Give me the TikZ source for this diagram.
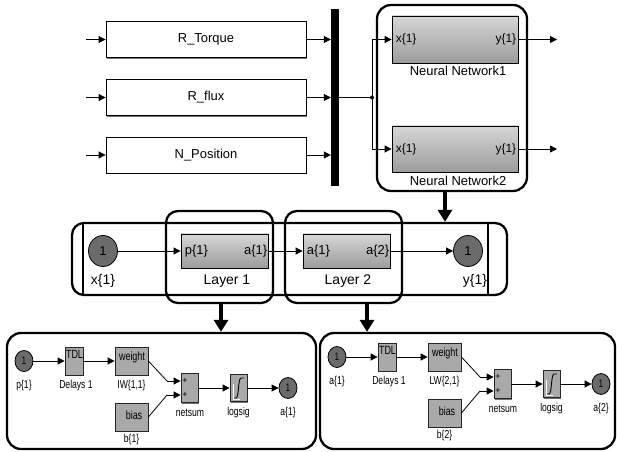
\documentclass[tikz,border=0pt]{standalone}
\usepackage{fontspec}
\setmainfont{Liberation Sans}
\newfontfamily\narrowfont[FakeStretch=0.75]{Liberation Sans}
\usetikzlibrary{arrows.meta,shadows,shapes.geometric}
\definecolor{blockfill}{HTML}{A9A9A9}
\definecolor{circfill}{HTML}{6B6B6B}
\definecolor{gradtop}{HTML}{D6D6D6}
\definecolor{gradbot}{HTML}{9C9C9C}
\tikzset{
  arr/.style={-{Triangle[length=7bp,width=7bp]}, line width=0.8bp},
  wire/.style={line width=0.8bp},
  bigarr/.style={-{Triangle[length=12bp,width=14bp]}, line width=3.5bp},
  frame/.style={draw, line width=2.3bp, rounded corners=14bp, inner sep=0pt},
  shad/.style={drop shadow={shadow xshift=1.3bp, shadow yshift=-1.3bp, fill=black!55, opacity=1}},
  srcbox/.style={draw, line width=0.8bp, fill=white, shad, minimum width=200bp, minimum height=36bp, inner sep=0pt, font=\fontsize{13}{15}\selectfont},
  gradbox/.style={draw, line width=0.8bp, top color=gradtop, bottom color=gradbot, shad, inner sep=0pt},
  port/.style={ellipse, draw=black, line width=0.8bp, fill=circfill, inner sep=0pt},
  blk/.style={draw=black!85, line width=0.8bp, fill=blockfill, shad, inner sep=0pt},
  lbl/.style={inner sep=0pt, font=\narrowfont\fontsize{11.5}{13}\selectfont},
  midlbl/.style={inner sep=0pt, font=\fontsize{14}{16}\selectfont},
  innerlbl/.style={inner sep=0pt, font=\fontsize{12}{14}\selectfont},
}
\newcommand\mypanel[5]{%
  \node[port, minimum width=18bp, minimum height=21bp, font=\narrowfont\fontsize{11}{12}\selectfont] (#1p) at (24,361) {1};
  \node[lbl] (#1pl) at (24,386) {#2};
  \node[blk, minimum width=18bp, minimum height=28bp] (#1t) at (74,361) {};
  \node[lbl, font=\narrowfont\fontsize{12}{13}\selectfont] (#1tt) at (74.5,354) {TDL};
  \node[lbl] (#1tl) at (76,386) {Delays 1};
  \node[blk, minimum width=33bp, minimum height=28bp] (#1w) at (131.5,361) {};
  \node[lbl, font=\narrowfont\fontsize{12}{13}\selectfont] (#1wt) at (132,357) {weight};
  \node[lbl] (#1wl) at (131.5,386) {#3};
  \node[blk, minimum width=33bp, minimum height=28bp] (#1b) at (131.5,417) {};
  \node[lbl, font=\narrowfont\fontsize{12}{13}\selectfont] (#1bt) at (134,415) {bias};
  \node[lbl] (#1bl) at (131.5,440) {#4};
  \node[blk, minimum width=17bp, minimum height=29bp] (#1n) at (189.5,388) {};
  \node[inner sep=0pt, font=\fontsize{9}{10}\selectfont] (#1na) at (185,381) {+};
  \node[inner sep=0pt, font=\fontsize{9}{10}\selectfont] (#1nb) at (185,395) {+};
  \node[lbl] (#1nl) at (190,413) {netsum};
  \node[blk, minimum width=17bp, minimum height=27bp] (#1s) at (238.5,388) {};
  \draw[white, line width=0.9bp] (233,384) -- (233,399) -- (240,399);
  \draw[black, line width=0.9bp] (234,398) -- (236,398) .. controls (239,398) and (238,378) .. (241,378) -- (244,378);
  \node[lbl] (#1sl) at (238.5,413) {logsig};
  \node[port, minimum width=18bp, minimum height=21bp, font=\narrowfont\fontsize{11}{12}\selectfont] (#1o) at (288,388) {1};
  \node[lbl] (#1ol) at (288,413) {#5};
  \coordinate (#1k1) at (167,381);
  \coordinate (#1k2) at (167,395);
  \draw[arr] (#1p.east) -- (#1t.west);
  \draw[arr] (#1t.east) -- (#1w.west);
  \draw[wire] (#1w.east) -- (#1k1);
  \draw[arr] (#1k1) -- (#1k1 -| #1n.west);
  \draw[wire] (#1b.east) -- (#1k2);
  \draw[arr] (#1k2) -- (#1k2 -| #1n.west);
  \draw[arr] (#1n.east) -- (#1s.west);
  \draw[arr] (#1s.east) -- (#1o.west);
}
\begin{document}
\begin{tikzpicture}[x=1bp,y=-1bp]
\useasboundingbox (0,0) rectangle (617,452);
% ---------- top section ----------
\node[srcbox] (rt) at (206,39.5) {R\_Torque};
\node[srcbox] (rf) at (206,97.5) {R\_flux};
\node[srcbox] (np) at (206,155) {N\_Position};
\coordinate (i1) at (86,39.5);
\coordinate (i2) at (86,97.5);
\coordinate (i3) at (86,155);
\draw[arr] (i1) -- (rt.west);
\draw[arr] (i2) -- (rf.west);
\draw[arr] (i3) -- (np.west);
\node[fill=black, minimum width=8bp, minimum height=177bp, inner sep=0pt] (bar) at (335,97.5) {};
\draw[arr] (rt.east) -- (rt.east -| bar.west);
\draw[arr] (rf.east) -- (rf.east -| bar.west);
\draw[arr] (np.east) -- (np.east -| bar.west);
% neural networks
\node[frame, minimum width=150bp, minimum height=186bp] (nnf) at (452,98) {};
\node[gradbox, minimum width=126bp, minimum height=47bp] (nn1) at (455,39.5) {};
\node[innerlbl, anchor=west] (nn1x) at ([xshift=4bp]nn1.west) {x\{1\}};
\node[innerlbl, anchor=east] (nn1y) at ([xshift=-2bp]nn1.east) {y\{1\}};
\node[inner sep=0pt, font=\fontsize{13}{15}\selectfont] (nn1l) at (458,71) {Neural Network1};
\node[gradbox, minimum width=126bp, minimum height=46bp] (nn2) at (455,149) {};
\node[innerlbl, anchor=west] (nn2x) at ([xshift=4bp]nn2.west) {x\{1\}};
\node[innerlbl, anchor=east] (nn2y) at ([xshift=-2bp]nn2.east) {y\{1\}};
\node[inner sep=0pt, font=\fontsize{13}{15}\selectfont] (nn2l) at (458,181) {Neural Network2};
\coordinate (j) at (372,97.5);
\draw[wire] (bar.east |- j) -- (j);
\fill (j) circle (2bp);
\draw[arr] (j) |- (nn1.west);
\draw[arr] (j) |- (nn2.west);
\coordinate (o1) at (557,39.5);
\coordinate (o2) at (557,149);
\draw[arr] (nn1.east) -- (o1);
\draw[arr] (nn2.east) -- (o2);
% ---------- middle section ----------
\node[frame, rounded corners=12bp, minimum width=435bp, minimum height=72bp] (outer) at (289.5,259) {};
\coordinate (xa) at (83,0);
\coordinate (xb) at (488,0);
\draw[line width=1.3bp] (outer.north -| xa) -- (outer.south -| xa);
\draw[line width=1.3bp] (outer.north -| xb) -- (outer.south -| xb);
\node[frame, rounded corners=12bp, minimum width=107bp, minimum height=92bp] (l1f) at (219.5,257) {};
\node[frame, rounded corners=12bp, minimum width=117bp, minimum height=92bp] (l2f) at (343.5,257) {};
\node[gradbox, minimum width=87bp, minimum height=34bp] (l1) at (224.5,251) {};
\node[midlbl, font=\fontsize{13}{15}\selectfont, anchor=west] (l1p) at ([xshift=4bp]l1.west) {p\{1\}};
\node[midlbl, font=\fontsize{13}{15}\selectfont, anchor=east] (l1a) at ([xshift=-1bp]l1.east) {a\{1\}};
\node[gradbox, minimum width=87bp, minimum height=34bp] (l2) at (346.5,251) {};
\node[midlbl, font=\fontsize{13}{15}\selectfont, anchor=west] (l2p) at ([xshift=4bp]l2.west) {a\{1\}};
\node[midlbl, font=\fontsize{13}{15}\selectfont, anchor=east] (l2a) at ([xshift=-1bp]l2.east) {a\{2\}};
\node[port, minimum width=29bp, minimum height=31bp, font=\fontsize{13}{15}\selectfont] (x1) at (103,251) {1};
\node[port, minimum width=29bp, minimum height=31bp, font=\fontsize{13}{15}\selectfont] (y1) at (468,251) {1};
\node[midlbl] (x1l) at (103,281) {x\{1\}};
\node[midlbl] (l1l) at (227,281) {Layer 1};
\node[midlbl] (l2l) at (348,281) {Layer 2};
\node[midlbl] (y1l) at (475,281) {y\{1\}};
\draw[arr] (x1.east) -- (l1.west);
\draw[arr] (l1.east) -- (l2.west);
\draw[arr] (l2.east) -- (y1.west);
\coordinate (ax) at (445,0);
\draw[bigarr] (nnf.south -| ax) -- (outer.north -| ax);
% ---------- bottom panels ----------
\node[frame, minimum width=309bp, minimum height=116bp] (lp) at (161.5,391) {};
\node[frame, minimum width=295bp, minimum height=116bp] (rp) at (467.5,391) {};
\coordinate (bx1) at (221,0);
\coordinate (bx2) at (367,0);
\draw[bigarr] (l1f.south -| bx1) -- (lp.north -| bx1);
\draw[bigarr] (l2f.south -| bx2) -- (rp.north -| bx2);
\mypanel{L}{p\{1\}}{IW\{1,1\}}{b\{1\}}{a\{1\}}
\begin{scope}[shift={(313,-4)}]
\mypanel{R}{a\{1\}}{LW\{2,1\}}{b\{2\}}{a\{2\}}
\end{scope}
\end{tikzpicture}
\end{document}
